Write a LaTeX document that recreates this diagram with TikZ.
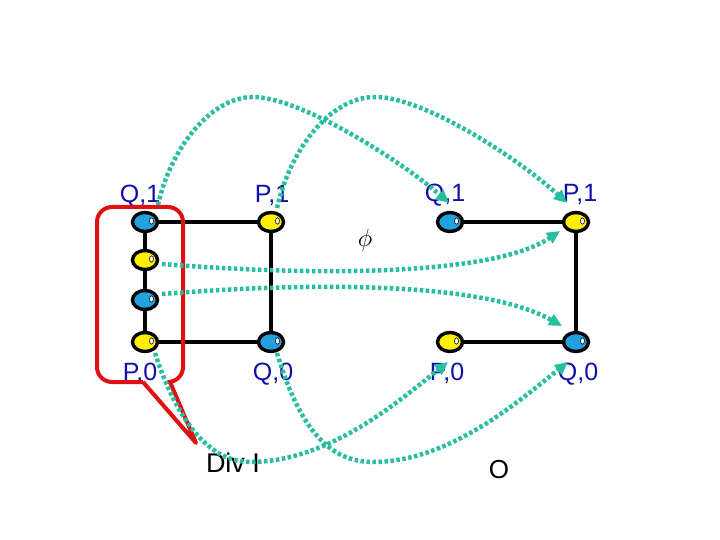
\documentclass[tikz,border=0pt]{standalone}
\usepackage{fontspec}
\setmainfont{Liberation Sans}
\usetikzlibrary{shapes.geometric,arrows.meta,calc,backgrounds}
\definecolor{lblue}{HTML}{1010A8}
\definecolor{nblue}{HTML}{22A0E0}
\definecolor{nyellow}{HTML}{FFF000}
\definecolor{teal2}{HTML}{28BEA0}
\definecolor{cred}{HTML}{E01010}
\begin{document}
\begin{tikzpicture}[x=1pt,y=-1pt,
  dot/.style={ellipse,draw=black,line width=3.4pt,minimum width=25pt,minimum height=19pt,inner sep=0pt,
    path picture={\draw[black,line width=0.6pt,fill=white] ([xshift=6.5pt,yshift=1pt]path picture bounding box.center) ellipse (2pt and 3.2pt);}},
  bdot/.style={dot,fill=nblue},
  ydot/.style={dot,fill=nyellow},
  lbl/.style={text=lblue,font=\fontsize{25}{25}\selectfont,anchor=base,inner sep=0pt},
  blk/.style={black,line width=4pt},
  flow/.style={teal2,line width=4.5pt,dash pattern=on 3.5pt off 2.5pt,
    -{Triangle[length=13pt,width=12pt]}},
]
\useasboundingbox (0,0) rectangle (720,540);
% nodes
\node[bdot] (lq1) at (145,222) {};
\node[ydot] (ly)  at (145,260) {};
\node[bdot] (lb)  at (145,300) {};
\node[ydot] (lp0) at (145,342) {};
\node[ydot] (lp1) at (271,222) {};
\node[bdot] (lq0) at (271,342) {};
\node[bdot] (rq1) at (450,222) {};
\node[ydot] (rp1) at (576,222) {};
\node[ydot] (rp0) at (450,342) {};
\node[bdot] (rq0) at (576,342) {};
\begin{scope}[on background layer]
\draw[blk] (lq1.center) -- (lp1.center) -- (lq0.center) -- (lp0.center) -- (lb.center) -- (ly.center) -- (lq1.center);
\draw[blk] (rq1.center) -- (rp1.center) -- (rq0.center) -- (rp0.center);
\end{scope}
% labels
\node[lbl] (tq1l) at (140,203) {Q,1};
\node[lbl] (tp1l) at (272,203) {P,1};
\node[lbl] (tp0l) at (140,380) {P,0};
\node[lbl] (tq0l) at (273,380) {Q,0};
\node[lbl] (tq1r) at (445,202) {Q,1};
\node[lbl] (tp1r) at (580,202) {P,1};
\node[lbl] (tp0r) at (447,380) {P,0};
\node[lbl] (tq0r) at (578,380) {Q,0};
\node[font=\fontsize{27}{27}\selectfont,inner sep=0pt,anchor=base] (div) at (233,472) {Div I};
\node[font=\fontsize{26}{26}\selectfont,inner sep=0pt,anchor=base] (o) at (499,478) {O};
\node[font=\fontsize{27}{27}\selectfont,inner sep=0pt] (phi) at (365,240) {$\phi$};
% red callout
\draw[cred,line width=4pt,line join=round]
  (143,382) -- (196,443) -- (170,382)
  [rounded corners=15pt] -- (183,382) -- (183,207) -- (97,207) -- (97,382) -- (143,382);
% flows
\draw[flow] ($(lq1)+(13,-17)$) .. controls (170,150) and (210,97) .. (253,97)
  .. controls (300,97) and (400,160) .. ($(rq1)+(-1,-19)$);
\draw[flow] ($(lp1)+(6,-14)$) .. controls (290,150) and (330,97) .. (375,97)
  .. controls (425,97) and (520,160) .. ($(rp1)+(-9,-19)$);
\draw[flow] ($(ly)+(17,4)$) .. controls (300,275) and (490,278) .. ($(rp1)+(-16,9)$);
\draw[flow] ($(lb)+(17,-6)$) .. controls (300,283) and (480,280) .. ($(rq0)+(-14,-16)$);
\draw[flow] ($(lp0)+(10,11)$) .. controls (170,400) and (200,462) .. (250,462)
  .. controls (330,462) and (400,400) .. ($(rp0)+(-2,20)$);
\draw[flow] ($(lq0)+(6,11)$) .. controls (300,430) and (330,462) .. (373,462)
  .. controls (450,462) and (520,400) .. ($(rq0)+(-8,20)$);
\end{tikzpicture}
\end{document}
